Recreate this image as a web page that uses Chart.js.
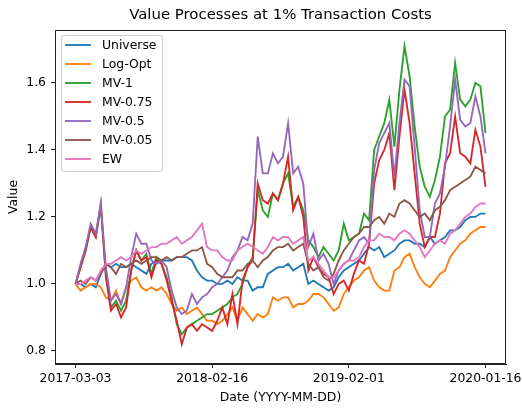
<!DOCTYPE html>
<html>
<head>
<meta charset="utf-8">
<script src="https://cdn.jsdelivr.net/npm/chart.js@4.4.1/dist/chart.umd.min.js"></script>
<style>
  html, body { margin: 0; padding: 0; background: #fff; }
  #wrap { width: 522px; height: 410px; }
</style>
</head>
<body>
<div id="wrap"><canvas id="myChart" width="522" height="410"></canvas></div>
<script>
// tick labels on the x axis (dates) and where they sit in the index
const tickLabels = ["2017-03-03", "2018-02-16", "2019-02-01", "2020-01-16"];
const tickIndex = [0, 27, 54, 81];
const yTicks = [0.8, 1.0, 1.2, 1.4, 1.6];
const chartTitle = "Value Processes at 1% Transaction Costs";

const seriesNames = ["Universe", "Log-Opt", "MV-1", "MV-0.75", "MV-0.5", "MV-0.05", "EW"];
const seriesColors = ["#1f77b4", "#ff7f0e", "#2ca02c", "#d62728", "#9467bd", "#8c564b", "#e377c2"];

const universe = [1.00,1.00,0.99,1.00,0.99,1.03,1.06,1.05,1.06,1.05, 1.05,1.06,1.05,1.04,1.03,1.06,1.07,1.07,1.07,1.07,
  1.08,1.08,1.08,1.07,1.04,1.02,1.01,1.01,1.00,1.00, 1.01,1.00,1.02,1.01,1.01,0.98,0.99,0.99,1.03,1.04,
  1.05,1.05,1.06,1.04,1.05,1.06,1.00,1.01,1.00,0.99, 0.98,0.99,1.02,1.04,1.05,1.06,1.07,1.09,1.11,1.10,
  1.11,1.08,1.09,1.10,1.12,1.13,1.13,1.12,1.12,1.11, 1.14,1.12,1.13,1.14,1.16,1.16,1.17,1.19,1.20,1.20,
  1.21,1.21];
const logOpt = [1.00,0.98,0.99,1.00,1.00,0.99,0.96,0.95,0.98,0.94, 0.99,1.01,1.02,0.99,0.98,0.99,0.98,0.99,0.97,0.94,
  0.92,0.93,0.91,0.92,0.93,0.91,0.89,0.89,0.88,0.89, 0.91,0.93,0.89,0.93,0.91,0.89,0.91,0.90,0.91,0.96,
  0.95,0.96,0.96,0.93,0.94,0.94,0.95,0.97,0.97,0.96, 0.94,0.92,0.93,0.97,0.99,1.01,1.02,1.04,1.05,1.01,
  0.99,0.98,0.98,1.04,1.05,1.08,1.09,1.05,1.02,1.00, 0.99,1.01,1.03,1.04,1.08,1.10,1.12,1.13,1.15,1.16,
  1.17,1.17];
const mv1 = [1.00,1.05,1.10,1.17,1.14,1.23,1.03,0.93,0.95,0.92, 0.95,1.04,1.10,1.07,1.09,1.03,1.08,1.06,1.02,0.96,
  0.88,0.85,0.87,0.88,0.89,0.90,0.91,0.91,0.92,0.93, 0.94,0.96,0.97,1.00,1.05,1.08,1.28,1.22,1.20,1.27,
  1.25,1.30,1.33,1.23,1.26,1.22,1.13,1.11,1.08,1.11, 1.09,1.07,1.10,1.18,1.13,1.14,1.15,1.21,1.19,1.40,
  1.44,1.48,1.55,1.41,1.58,1.71,1.62,1.47,1.35,1.29, 1.26,1.31,1.38,1.50,1.52,1.66,1.55,1.53,1.55,1.60,
  1.59,1.45];
const mv075 = [1.00,1.05,1.10,1.17,1.14,1.24,1.02,0.92,0.94,0.90, 0.93,1.04,1.10,1.07,1.08,1.02,1.07,1.06,1.01,0.95,
  0.89,0.82,0.87,0.88,0.86,0.88,0.87,0.86,0.89,0.93, 0.88,0.97,0.88,1.01,1.05,1.07,1.30,1.25,1.24,1.27,
  1.25,1.30,1.38,1.22,1.26,1.20,1.04,1.08,1.05,1.03, 1.02,0.97,1.00,1.01,0.98,1.03,1.07,1.06,1.12,1.30,
  1.37,1.40,1.45,1.28,1.44,1.58,1.48,1.33,1.18,1.11, 1.14,1.14,1.21,1.36,1.39,1.50,1.39,1.38,1.36,1.46,
  1.41,1.29];
const mv05 = [1.00,1.06,1.11,1.18,1.15,1.24,1.05,0.95,0.97,0.94, 0.99,1.08,1.15,1.12,1.12,1.07,1.06,1.07,1.05,0.98,
  0.93,0.91,0.92,0.97,0.94,0.96,0.97,0.99,1.00,1.02, 1.04,1.08,1.10,1.14,1.13,1.18,1.44,1.33,1.33,1.39,
  1.36,1.38,1.48,1.33,1.35,1.30,1.11,1.15,1.07,1.09, 1.06,1.00,1.04,1.06,1.07,1.10,1.13,1.14,1.12,1.34,
  1.42,1.45,1.48,1.32,1.48,1.61,1.59,1.41,1.22,1.14, 1.14,1.24,1.27,1.35,1.47,1.61,1.49,1.47,1.48,1.56,
  1.50,1.39];
const mv005 = [1.00,1.01,1.00,1.02,1.01,1.03,1.06,1.05,1.03,1.06, 1.05,1.06,1.07,1.06,1.07,1.08,1.08,1.07,1.08,1.07,
  1.08,1.08,1.09,1.10,1.10,1.11,1.06,1.05,1.03,1.02, 1.02,1.02,1.04,1.04,1.06,1.07,1.05,1.07,1.08,1.10,
  1.11,1.11,1.12,1.10,1.11,1.12,1.06,1.04,1.05,1.02, 1.01,1.03,1.07,1.10,1.12,1.14,1.15,1.17,1.17,1.19,
  1.20,1.18,1.21,1.20,1.24,1.25,1.24,1.22,1.20,1.21, 1.19,1.22,1.23,1.25,1.28,1.29,1.30,1.31,1.32,1.35,
  1.34,1.33];
const ew = [1.00,1.00,1.01,1.02,1.01,1.04,1.06,1.06,1.07,1.08, 1.07,1.08,1.10,1.09,1.10,1.11,1.11,1.12,1.12,1.13,
  1.14,1.12,1.13,1.14,1.16,1.18,1.11,1.10,1.10,1.08, 1.07,1.07,1.10,1.11,1.12,1.11,1.10,1.09,1.11,1.14,
  1.13,1.14,1.14,1.12,1.13,1.14,1.07,1.08,1.06,1.04, 1.02,1.02,1.04,1.06,1.07,1.07,1.08,1.11,1.13,1.13,
  1.15,1.14,1.14,1.13,1.15,1.16,1.15,1.13,1.11,1.08, 1.10,1.12,1.13,1.12,1.15,1.16,1.18,1.20,1.21,1.23,
  1.24,1.24];

const allSeries = [universe, logOpt, mv1, mv075, mv05, mv005, ew];
const lastIndex = universe.length - 1;

Chart.defaults.font.family = "'DejaVu Sans', sans-serif";
Chart.defaults.color = "#000";

// matplotlib style frame (all four spines) + title centred over the plot
const frame = {
    id: "frame",
    afterDatasetsDraw(chart) {
        const a = chart.chartArea;
        const ctx = chart.ctx;
        ctx.save();
        ctx.strokeStyle = "#222";
        ctx.lineWidth = 1;
        ctx.strokeRect(Math.round(a.left) + 0.5, Math.round(a.top) + 0.5,
            Math.round(a.right - a.left) - 1, Math.round(a.bottom - a.top) - 1);
        ctx.font = "14.9px 'DejaVu Sans', sans-serif";
        ctx.fillStyle = "#000";
        ctx.textAlign = "center";
        ctx.textBaseline = "middle";
        ctx.fillText(chartTitle, (a.left + a.right) / 2, 15.5);
        ctx.restore();
    }
};

// legend box in the upper left of the plot
const boxLegend = {
    id: "boxLegend",
    afterDraw(chart) {
        const ctx = chart.ctx;
        const x0 = 61, y0 = 35, w = 101, h = 136, r = 3;
        ctx.save();
        ctx.beginPath();
        ctx.roundRect(x0 + 0.5, y0 + 0.5, w, h, r);
        ctx.fillStyle = "rgba(255,255,255,0.8)";
        ctx.fill();
        ctx.strokeStyle = "#cccccc";
        ctx.lineWidth = 1;
        ctx.stroke();
        ctx.font = "12.4px 'DejaVu Sans', sans-serif";
        ctx.textBaseline = "middle";
        ctx.textAlign = "left";
        chart.data.datasets.forEach((ds, i) => {
            const y = 45 + i * 19;
            ctx.beginPath();
            ctx.moveTo(65, y);
            ctx.lineTo(91, y);
            ctx.strokeStyle = ds.borderColor;
            ctx.lineWidth = 1.85;
            ctx.stroke();
            ctx.fillStyle = "#000";
            ctx.fillText(ds.label, 102, y + 0.5);
        });
        ctx.restore();
    }
};

const datasets = seriesNames.map((name, i) => ({
    label: name,
    data: allSeries[i].map((v, k) => ({x: k, y: v})),
    borderColor: seriesColors[i],
    backgroundColor: seriesColors[i],
    borderWidth: 1.85,
    pointRadius: 0,
    tension: 0,
    fill: false,
    order: seriesNames.length - i
}));

new Chart(document.getElementById("myChart"), {
    type: "line",
    data: { datasets: datasets },
    options: {
        responsive: false,
        animation: false,
        layout: { padding: { left: 0, right: 16, top: 30, bottom: 0 } },
        plugins: {
            legend: { display: false },
            tooltip: { enabled: false },
            title: { display: false }
        },
        scales: {
            x: {
                type: "linear",
                min: -0.05 * lastIndex,
                max: 1.05 * lastIndex,
                grid: { drawOnChartArea: false, drawTicks: true, tickLength: 4, color: "#222" },
                border: { display: true, color: "#222" },
                ticks: {
                    padding: 3,
                    font: { size: 12.4 },
                    maxRotation: 0,
                    callback: (v) => {
                        const k = tickIndex.indexOf(v);
                        return k >= 0 ? tickLabels[k] : "";
                    }
                },
                afterBuildTicks: (scale) => {
                    scale.ticks = tickIndex.map(v => ({ value: v }));
                },
                afterFit: (scale) => {
                    scale.height = 46;
                    scale.paddingLeft = 0;
                    scale.paddingRight = 0;
                },
                title: {
                    display: true,
                    text: "Date (YYYY-MM-DD)",
                    font: { size: 12.4 },
                    padding: { top: 0, bottom: 5 }
                }
            },
            y: {
                type: "linear",
                min: 0.761,
                max: 1.758,
                grid: { drawOnChartArea: false, drawTicks: true, tickLength: 4, color: "#222" },
                border: { display: true, color: "#222" },
                ticks: {
                    padding: 5,
                    font: { size: 12.4 },
                    callback: (v) => v.toFixed(1)
                },
                afterBuildTicks: (scale) => {
                    scale.ticks = yTicks.map(v => ({ value: v }));
                },
                afterFit: (scale) => {
                    scale.width = 55;
                    scale.paddingTop = 0;
                    scale.paddingBottom = 0;
                },
                title: {
                    display: true,
                    text: "Value",
                    font: { size: 12.4 },
                    padding: { top: 6, bottom: 0 }
                }
            }
        }
    },
    plugins: [frame, boxLegend]
});
</script>
</body>
</html>
